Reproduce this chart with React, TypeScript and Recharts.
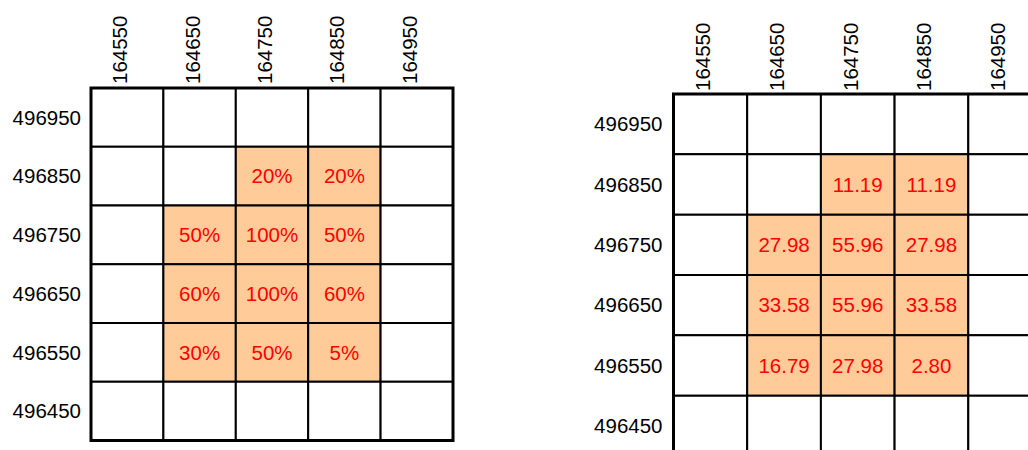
import React from 'react';
import { ScatterChart, Scatter, XAxis, YAxis, ReferenceArea } from 'recharts';

const xTicks = [164550, 164650, 164750, 164850, 164950];
const yTicks = [496950, 496850, 496750, 496650, 496550, 496450];
const xDomain: [number, number] = [164500, 165000];
const yDomain: [number, number] = [496400, 497000];
const cellHalf = 50;

// left grid: percentages (rows top to bottom, columns left to right)
const percentRows: (number | null)[][] = [
  [null, null, null, null, null],
  [null, null, 20, 20, null],
  [null, 50, 100, 50, null],
  [null, 60, 100, 60, null],
  [null, 30, 50, 5, null],
  [null, null, null, null, null],
];

// right grid: values
const valueRows: (number | null)[][] = [
  [null, null, null, null, null],
  [null, null, 11.19, 11.19, null],
  [null, 27.98, 55.96, 27.98, null],
  [null, 33.58, 55.96, 33.58, null],
  [null, 16.79, 27.98, 2.8, null],
  [null, null, null, null, null],
];

const FONT = '"Liberation Sans", Arial, sans-serif';
const FILL = '#FFCC99';

type GridProps = {
  left: number;
  top: number;
  width: number;
  height: number;
  yAxisWidth: number;
  xAxisHeight: number;
  marginRight: number;
  marginBottom: number;
  rows: (number | null)[][];
  fmt: (v: number) => string;
  xTickMargin: number;
  yTickMargin: number;
};

const Grid = (p: GridProps) => {
  const cells = yTicks.flatMap((y, r) =>
    xTicks.map((x, c) => ({ x, y, v: p.rows[r][c] }))
  );
  return (
    <div style={{ position: 'absolute', left: p.left, top: p.top }}>
      <ScatterChart
        width={p.width}
        height={p.height}
        margin={{ top: 0, left: 0, right: p.marginRight, bottom: p.marginBottom }}
      >
        <XAxis
          type="number"
          dataKey="x"
          orientation="top"
          domain={xDomain}
          ticks={xTicks}
          interval={0}
          height={p.xAxisHeight}
          axisLine={false}
          tickLine={false}
          tickSize={0}
          tickMargin={p.xTickMargin}
          angle={-90}
          tick={{
            angle: -90,
            textAnchor: 'start',
            verticalAnchor: 'middle',
            fontSize: 20.5,
            fill: '#000',
            fontFamily: FONT,
          }}
        />
        <YAxis
          type="number"
          dataKey="y"
          domain={yDomain}
          ticks={yTicks}
          interval={0}
          width={p.yAxisWidth}
          axisLine={false}
          tickLine={false}
          tickSize={0}
          tickMargin={p.yTickMargin}
          tick={{ fontSize: 20.5, fill: '#000', fontFamily: FONT }}
        />
        {cells.map((c, i) => (
          <ReferenceArea
            key={i}
            x1={c.x - cellHalf}
            x2={c.x + cellHalf}
            y1={c.y - cellHalf}
            y2={c.y + cellHalf}
            fill={c.v == null ? '#FFFFFF' : FILL}
            fillOpacity={1}
            stroke="#000"
            strokeWidth={2}
            ifOverflow="visible"
            label={
              c.v == null
                ? undefined
                : {
                    value: p.fmt(c.v),
                    position: 'center',
                    fill: '#FF0000',
                    fontSize: 20.5,
                    fontFamily: FONT,
                  }
            }
          />
        ))}
        <ReferenceArea
          x1={xDomain[0]}
          x2={xDomain[1]}
          y1={yDomain[0]}
          y2={yDomain[1]}
          fill="none"
          fillOpacity={0}
          stroke="#000"
          strokeWidth={3}
          ifOverflow="visible"
        />
        <Scatter
          data={cells}
          isAnimationActive={false}
          shape={() => <g />}
        />
      </ScatterChart>
    </div>
  );
};

export default function App() {
  return (
    <div
      style={{
        position: 'absolute',
        left: 0,
        top: 0,
        width: 1028,
        height: 450,
        overflow: 'hidden',
        background: '#fff',
      }}
    >
      <Grid
        left={0}
        top={0}
        width={470}
        height={460}
        yAxisWidth={91}
        xAxisHeight={88}
        marginRight={17}
        marginBottom={19.5}
        rows={percentRows}
        fmt={(v) => `${v}%`}
        xTickMargin={4}
        yTickMargin={10}
      />
      <Grid
        left={580}
        top={0}
        width={480}
        height={470}
        yAxisWidth={93.5}
        xAxisHeight={94}
        marginRight={18}
        marginBottom={14}
        rows={valueRows}
        fmt={(v) => v.toFixed(2)}
        xTickMargin={3}
        yTickMargin={11}
      />
    </div>
  );
}
